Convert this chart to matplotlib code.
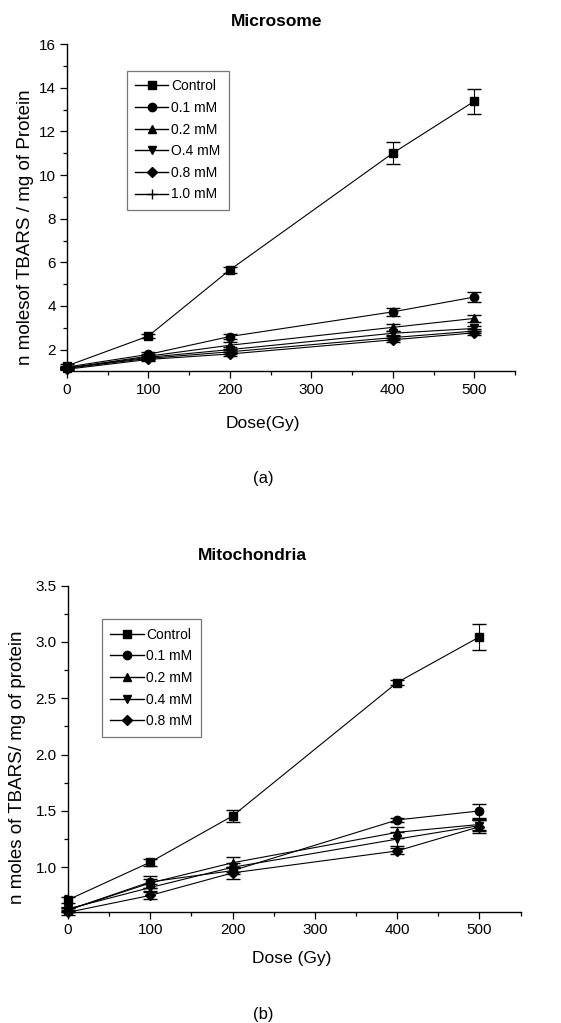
import numpy as np
import matplotlib
matplotlib.use('Agg')
import matplotlib.pyplot as plt
from matplotlib.ticker import MultipleLocator
from matplotlib.lines import Line2D

plt.rcParams['font.family'] = ['Liberation Sans', 'DejaVu Sans']

# dose values (Gy)
dose = [0, 100, 200, 400, 500]

# (a) Microsome, n moles TBARS / mg protein
mic_labels = ['Control', '0.1 mM', '0.2 mM', 'O.4 mM', '0.8 mM', '1.0 mM']
mic_control = [1.25, 2.62, 5.65, 11.0, 13.38]
mic_01 = [1.2, 1.78, 2.6, 3.73, 4.41]
mic_02 = [1.15, 1.7, 2.2, 3.02, 3.43]
mic_04 = [1.15, 1.65, 2.0, 2.75, 2.97]
mic_08 = [1.1, 1.55, 1.8, 2.45, 2.77]
mic_10 = [1.15, 1.6, 1.9, 2.55, 2.85]
mic_control_err = [0.08, 0.1, 0.15, 0.5, 0.58]
mic_01_err = [0.05, 0.1, 0.12, 0.2, 0.23]
mic_02_err = [0.05, 0.1, 0.15, 0.15, 0.15]
mic_04_err = [0.05, 0.08, 0.12, 0.12, 0.12]
mic_08_err = [0.05, 0.08, 0.1, 0.1, 0.1]
mic_10_err = [0.05, 0.08, 0.1, 0.1, 0.1]

# (b) Mitochondria, n moles TBARS / mg protein
mit_labels = ['Control', '0.1 mM', '0.2 mM', '0.4 mM', '0.8 mM']
mit_control = [0.71, 1.045, 1.455, 2.64, 3.045]
mit_01 = [0.62, 0.87, 0.97, 1.42, 1.5]
mit_02 = [0.62, 0.86, 1.04, 1.31, 1.38]
mit_04 = [0.63, 0.82, 1.0, 1.25, 1.37]
mit_08 = [0.6, 0.75, 0.95, 1.145, 1.36]
mit_control_err = [0.03, 0.03, 0.05, 0.025, 0.115]
mit_01_err = [0.02, 0.05, 0.03, 0.02, 0.06]
mit_02_err = [0.02, 0.04, 0.05, 0.05, 0.05]
mit_04_err = [0.02, 0.03, 0.04, 0.06, 0.05]
mit_08_err = [0.02, 0.03, 0.05, 0.03, 0.06]

markers = ['s', 'o', '^', 'v', 'D', '+']
msizes = [5.5, 6, 6, 6, 5, 7]


def style_axes(ax):
	ax.spines['top'].set_visible(False)
	ax.spines['right'].set_visible(False)
	ax.spines['left'].set_linewidth(1.0)
	ax.spines['bottom'].set_linewidth(1.0)
	ax.tick_params(which='major', direction='out', length=5, width=0.9, labelsize=11, pad=3)
	ax.tick_params(which='minor', direction='out', length=3, width=0.9)
	ax.set_xlim(0, 550)
	ax.xaxis.set_major_locator(MultipleLocator(100))
	ax.xaxis.set_minor_locator(MultipleLocator(50))


def draw(ax, series, errs, labels, anchor):
	handles = []
	for i in range(len(series)):
		ax.errorbar(dose, series[i], yerr=errs[i], color='black', lw=0.8,
			marker=markers[i], ms=msizes[i], mew=1.0, elinewidth=0.8,
			capsize=5, capthick=0.9, clip_on=False, zorder=3)
		handles.append(Line2D([], [], color='black', lw=1.0, marker=markers[i],
			ms=msizes[i], mew=1.0, label=labels[i]))
	leg = ax.legend(handles=handles, loc='upper left', bbox_to_anchor=anchor,
		fontsize=10, frameon=True, fancybox=False,
		edgecolor='#555555', handlelength=2.4, handletextpad=0.2,
		labelspacing=0.55, borderpad=0.6, borderaxespad=0)
	leg.get_frame().set_linewidth(0.9)
	return leg


fig = plt.figure(figsize=(5.61, 10.23), dpi=100)

# top panel
ax1 = fig.add_axes([0.119, 0.6369, 0.799, 0.320])
draw(ax1, [mic_control, mic_01, mic_02, mic_04, mic_08, mic_10],
	[mic_control_err, mic_01_err, mic_02_err, mic_04_err, mic_08_err, mic_10_err],
	mic_labels, (0.134, 0.918))
style_axes(ax1)
ax1.set_ylim(1.0, 16)
ax1.yaxis.set_major_locator(MultipleLocator(2))
ax1.yaxis.set_minor_locator(MultipleLocator(1))
ax1.set_yticks([2, 4, 6, 8, 10, 12, 14, 16])
fig.text(277 / 561, 1 - 21 / 1023, 'Microsome', ha='center', va='center', fontsize=12.5, fontweight='bold')
fig.text(263 / 561, 1 - 423 / 1023, 'Dose(Gy)', ha='center', va='center', fontsize=12.5)
fig.text(263 / 561, 1 - 478 / 1023, '(a)', ha='center', va='center', fontsize=12)
fig.text(26 / 561, 1 - 227 / 1023, 'n molesof TBARS / mg of Protein', ha='center', va='center',
	rotation=90, fontsize=13.5)

# bottom panel
ax2 = fig.add_axes([0.121, 0.1082, 0.807, 0.3193])
draw(ax2, [mit_control, mit_01, mit_02, mit_04, mit_08],
	[mit_control_err, mit_01_err, mit_02_err, mit_04_err, mit_08_err],
	mit_labels, (0.075, 0.897))
style_axes(ax2)
ax2.set_ylim(0.6, 3.5)
ax2.yaxis.set_major_locator(MultipleLocator(0.5))
ax2.yaxis.set_minor_locator(MultipleLocator(0.25))
ax2.set_yticks([1.0, 1.5, 2.0, 2.5, 3.0, 3.5])
ax2.set_yticklabels(['1.0', '1.5', '2.0', '2.5', '3.0', '3.5'])
fig.text(252 / 561, 1 - 555 / 1023, 'Mitochondria', ha='center', va='center', fontsize=12.5, fontweight='bold')
fig.text(292 / 561, 1 - 958 / 1023, 'Dose (Gy)', ha='center', va='center', fontsize=12.5)
fig.text(263 / 561, 1 - 1015 / 1023, '(b)', ha='center', va='center', fontsize=12)
fig.text(18 / 561, 1 - 767 / 1023, 'n moles of TBARS/ mg of protein', ha='center', va='center',
	rotation=90, fontsize=13.5)

fig.savefig('out.png', dpi=100)
